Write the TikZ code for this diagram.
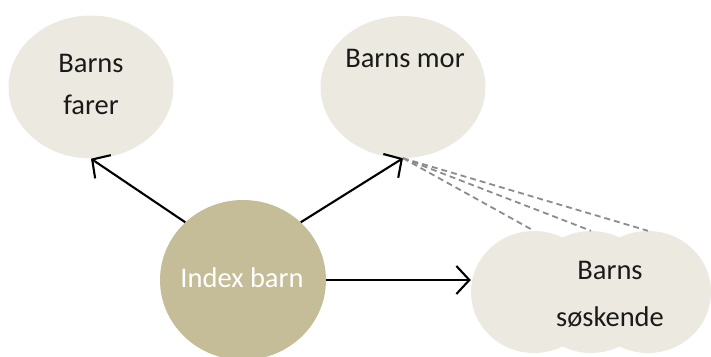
\documentclass[tikz,border=0pt]{standalone}
\usepackage{fontspec}
\setmainfont{Carlito}
\usetikzlibrary{arrows.meta,shapes.geometric}
\definecolor{lightbeige}{HTML}{ECEAE0}
\definecolor{tanfill}{HTML}{C4BD97}
\definecolor{dashgray}{HTML}{8C8C8C}
\definecolor{txt}{HTML}{1A1A1A}
\tikzset{
  bubble/.style={ellipse, fill=lightbeige, draw=none, inner sep=0pt},
  lbl/.style={anchor=base, inner sep=0pt, text=txt, font=\fontsize{28.5}{34}\selectfont},
  arr/.style={line width=2.1pt, -{Straight Barb[length=13pt,width=28pt,line width=2.1pt]}},
  kin/.style={dashgray, line width=1.8pt, dash pattern=on 6pt off 4pt},
}
\begin{document}
\begin{tikzpicture}[x=1pt,y=-1pt]
\useasboundingbox (0,0) rectangle (711,356);
\begin{scope}
\clip (0,0) rectangle (711,356);
\node[bubble, minimum width=165pt, minimum height=143pt] (farer) at (91,87) {};
\node[bubble, minimum width=165pt, minimum height=142pt] (mor) at (403,87) {};
\node[bubble, minimum width=126pt, minimum height=122pt] (sib1) at (534,292) {};
\node[bubble, minimum width=126pt, minimum height=122pt] (sib2) at (591,292) {};
\node[bubble, minimum width=126pt, minimum height=122pt] (sib3) at (648,292) {};
\node[ellipse, fill=tanfill, inner sep=0pt, minimum width=166pt, minimum height=160pt] (idx) at (243,280) {};
\end{scope}
\node[lbl] (farer1) at (91,72) {Barns};
\node[lbl] (farer2) at (91,114) {farer};
\node[lbl] (mor1) at (405,67) {Barns mor};
\node[lbl, text=white] (idx1) at (242,287) {Index barn};
\node[lbl] (sib1t) at (610,279) {Barns};
\node[lbl] (sib2t) at (610,326) {søskende};
\draw[arr] (idx.135) -- (farer.south);
\draw[arr] (idx.45) -- (mor.south);
\coordinate (sibin) at (idx.east -| sib1.west);
\draw[arr] (idx.east) -- (sibin);
\draw[kin] (mor.south) -- (sib1.north);
\draw[kin] (mor.south) -- (sib2.north);
\draw[kin] (mor.south) -- (sib3.north);
\end{tikzpicture}
\end{document}
